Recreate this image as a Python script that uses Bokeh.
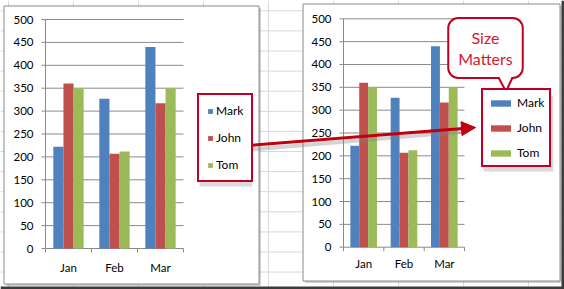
from bokeh.plotting import figure
from bokeh.models import Range1d, Legend, LegendItem, Label, Arrow, NormalHead
from bokeh.core.properties import value
from bokeh.embed import file_html
from bokeh.resources import INLINE

# ---------------- data ----------------
months = ["Jan", "Feb", "Mar"]
series_names = ["Mark", "John", "Tom"]
mark = [222, 327, 440]
john = [360, 207, 317]
tom = [350, 212, 350]
y_ticks = [0, 50, 100, 150, 200, 250, 300, 350, 400, 450, 500]
y_tick_labels = [str(t) for t in y_ticks]

colors = ["#4F81BD", "#C0504D", "#9BBB59"]
FONT = value("Lato")
RED = "#c00020"
W, H = 564, 289


def Y(py):
    return H - py


p = figure(width=W, height=H, x_range=Range1d(0, W), y_range=Range1d(0, H),
           output_backend="svg", toolbar_location=None, min_border=0,
           x_axis_type=None, y_axis_type=None, outline_line_color=None,
           background_fill_color="white", border_fill_color="white")
p.grid.visible = False

# spreadsheet grid in the background
vx = [8 + 65 * k for k in range(9)]
hy = [10.3 + 20.1 * k for k in range(14)]
p.segment(x0=vx, y0=[0] * len(vx), x1=vx, y1=[H] * len(vx), line_color="#d6d8da", line_width=1)
p.segment(x0=[0] * len(hy), y0=[Y(v) for v in hy], x1=[W] * len(hy), y1=[Y(v) for v in hy],
          line_color="#d6d8da", line_width=1)

# chart boxes (with a soft shadow)
boxes = [(3.5, 258.5, 5.5, 283.5), (302.5, 559.5, 3.5, 280.5)]
for l, r, t, b in boxes:
    p.quad(left=l + 2, right=r + 2, top=Y(t + 2), bottom=Y(b + 2), fill_color="#9a9a9a",
           fill_alpha=0.45, line_color=None)
    p.quad(left=l, right=r, top=Y(t), bottom=Y(b), fill_color="white", line_color="#8a8a8a", line_width=1)


def chart(x0, x1, yb, yt, lab_right, cat_y, bar_w):
    n = len(months)
    sub = p.subplot(x_source=Range1d(0, n), y_source=Range1d(0, 500),
                    x_target=Range1d(x0, x1), y_target=Range1d(Y(yb), Y(yt)))
    suby = p.subplot(x_source=Range1d(0, W), y_source=Range1d(0, 500),
                     x_target=Range1d(0, W), y_target=Range1d(Y(yb), Y(yt)))
    subx = p.subplot(x_source=Range1d(0, n), y_source=Range1d(0, H),
                     x_target=Range1d(x0, x1), y_target=Range1d(0, H))
    # gridlines
    gt = y_ticks[1:]
    sub.segment(x0=[0] * len(gt), x1=[n] * len(gt), y0=gt, y1=gt, line_color="#8a8a8a", line_width=1)
    # axes
    sub.segment(x0=[0, 0], y0=[0, 0], x1=[0, n], y1=[500, 0], line_color="#8a8a8a", line_width=1)
    # y ticks and labels
    suby.segment(x0=[x0 - 4] * len(y_ticks), x1=[x0] * len(y_ticks), y0=y_ticks, y1=y_ticks,
                 line_color="#8a8a8a", line_width=1)
    suby.text(x=[lab_right] * len(y_ticks), y=y_ticks, text=y_tick_labels, text_font=FONT,
              text_font_size="11.5px", text_align="right", text_baseline="middle", text_color="#000")
    # category ticks and labels
    cb = list(range(n + 1))
    subx.segment(x0=cb, x1=cb, y0=[Y(yb)] * len(cb), y1=[Y(yb + 4)] * len(cb),
                 line_color="#8a8a8a", line_width=1)
    subx.text(x=[i + 0.5 for i in range(n)], y=[Y(cat_y)] * n, text=months, text_font=FONT,
              text_font_size="11.5px", text_align="center", text_baseline="middle", text_color="#000")
    rends = []
    for k, vals in enumerate([mark, john, tom]):
        off = (k - 1) * bar_w
        r = sub.vbar(x=[i + 0.5 + off for i in range(n)], top=vals, bottom=0, width=bar_w,
                     fill_color=colors[k], line_color=None)
        rends.append(r)
    return rends


rl = chart(45, 183, 248, 19, 33, 267, 0.22)
rr = chart(343, 464, 246.7, 18.3, 331, 263, 0.22)

# legend shadows
p.quad(left=199, right=252, top=Y(111), bottom=Y(186), fill_color="#999999", fill_alpha=0.35, line_color=None)
p.quad(left=483, right=553, top=Y(95), bottom=Y(171), fill_color="#999999", fill_alpha=0.35, line_color=None)

legL = Legend(items=[LegendItem(label=series_names[k], renderers=[rl[k]]) for k in range(3)],
              location=(197, Y(182)), padding=8, spacing=12, label_height=11,
              glyph_width=6, glyph_height=6, label_standoff=3, margin=0,
              label_text_font="Lato", label_text_font_size="12px", label_text_color="#000",
              border_line_color=RED, border_line_width=2, border_line_alpha=1,
              background_fill_color="white", background_fill_alpha=1)
legR = Legend(items=[LegendItem(label=series_names[k], renderers=[rr[k]]) for k in range(3)],
              location=(481, Y(167)), padding=5, spacing=10, label_height=14,
              glyph_width=25, glyph_height=8, label_standoff=4, margin=0,
              label_text_font="Lato", label_text_font_size="12px", label_text_color="#000",
              border_line_color=RED, border_line_width=2, border_line_alpha=1,
              background_fill_color="white", background_fill_alpha=1)
p.add_layout(legL)
p.add_layout(legR)

# arrow shadow + arrow
p.line(x=[250, 466], y=[Y(149), Y(131)], line_color="#808080", line_width=4, line_alpha=0.35)
p.add_layout(Arrow(end=NormalHead(size=14, fill_color="#c00010", line_color="#c00010"),
                   x_start=248, y_start=Y(145), x_end=475, y_end=Y(127),
                   line_color="#c00010", line_width=3))

# callout
p.add_layout(Label(x=485, y=Y(47.5), text="Size\nMatters", text_align="center", text_baseline="middle",
                   text_font="Lato", text_font_size="16px", text_color="#d4182f", text_line_height=1.1,
                   background_fill_color="white", border_line_color=RED, border_line_width=2,
                   border_line_alpha=1, border_radius=10, padding=10))
tail = p.patch(x=[498, 505.5, 512], y=[Y(75), Y(91), Y(75)], fill_color="white", line_color=None)
tail.level = "overlay"
tl = p.line(x=[498, 505.5, 512], y=[Y(77), Y(91), Y(77)], line_color=RED, line_width=2)
tl.level = "overlay"

# screenshot frame edge
p.quad(left=561, right=W, top=H, bottom=0, fill_color="#3c3c3c", line_color=None)
p.quad(left=0, right=W, top=Y(286), bottom=0, fill_color="#3c3c3c", line_color=None)

open("out.html", "w").write(file_html(p, INLINE))
